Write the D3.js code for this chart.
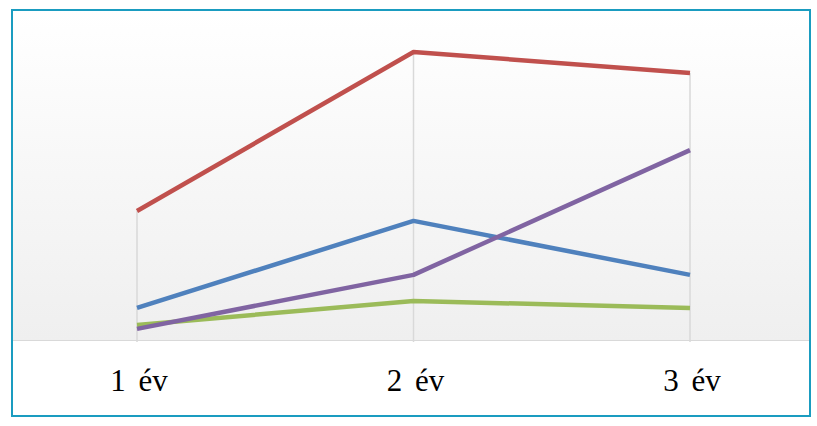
<!DOCTYPE html>
<html>
<head>
<meta charset="utf-8">
<script src="https://cdn.jsdelivr.net/npm/d3@7"></script>
<style>
  html, body { margin: 0; padding: 0; background: #fff; }
  svg { display: block; }
  .cat-label { font-family: "Liberation Serif", "Times New Roman", Times, "DejaVu Serif", serif; }
</style>
</head>
<body>
<div id="app"></div>
<script>
const categories = ["1 év", "2 év", "3 év"];
const redValues = [43, 96, 89];
const blueValues = [10.7, 39.7, 21.7];
const purpleValues = [3.7, 21.7, 63.3];
const greenValues = [5, 13, 10.7];

const series = [
  { name: "red", color: "#c0504d", values: redValues },
  { name: "blue", color: "#4f81bd", values: blueValues },
  { name: "green", color: "#9bbb59", values: greenValues },
  { name: "purple", color: "#8064a2", values: purpleValues }
];

const width = 817;
const height = 426;
const baseline = 340;

const svg = d3.select("#app")
  .append("svg")
  .attr("width", width)
  .attr("height", height);

const defs = svg.append("defs");
const grad = defs.append("linearGradient")
  .attr("id", "bg")
  .attr("x1", 0).attr("y1", 0).attr("x2", 0).attr("y2", 1);
grad.append("stop").attr("offset", "0%").attr("stop-color", "#ffffff");
grad.append("stop").attr("offset", "100%").attr("stop-color", "#efefef");

// plot background
svg.append("rect")
  .attr("x", 13)
  .attr("y", 11)
  .attr("width", 797)
  .attr("height", baseline - 11)
  .attr("fill", "url(#bg)");

const xScale = d3.scalePoint()
  .domain(categories)
  .range([137, 690]);

const yScale = d3.scaleLinear()
  .domain([0, 110])
  .range([baseline, 10]);

// drop lines from highest point to the baseline
svg.append("g")
  .selectAll("line")
  .data(categories)
  .enter()
  .append("line")
  .attr("x1", (d) => xScale(d))
  .attr("x2", (d) => xScale(d))
  .attr("y1", (d, i) => yScale(d3.max(series, (s) => s.values[i])))
  .attr("y2", baseline + 2)
  .attr("stroke", "#d9d9d9")
  .attr("stroke-width", 1.5);

// baseline
svg.append("line")
  .attr("x1", 13)
  .attr("x2", 810)
  .attr("y1", baseline + 0.5)
  .attr("y2", baseline + 0.5)
  .attr("stroke", "#d9d9d9")
  .attr("stroke-width", 1);

const line = d3.line()
  .x((d, i) => xScale(categories[i]))
  .y((d) => yScale(d));

svg.append("g")
  .selectAll("path")
  .data(series)
  .enter()
  .append("path")
  .attr("d", (d) => line(d.values))
  .attr("fill", "none")
  .attr("stroke", (d) => d.color)
  .attr("stroke-width", 4.5)
  .attr("stroke-linejoin", "round");

// category labels
svg.append("g")
  .selectAll("text")
  .data(categories)
  .enter()
  .append("text")
  .attr("class", "cat-label")
  .text((d) => d)
  .attr("x", (d) => xScale(d) + 2)
  .attr("y", 391)
  .attr("text-anchor", "middle")
  .attr("font-size", 31)
  .attr("word-spacing", 5)
  .attr("fill", "#000");

// outer border
svg.append("rect")
  .attr("x", 12)
  .attr("y", 10)
  .attr("width", 798)
  .attr("height", 406)
  .attr("fill", "none")
  .attr("stroke", "#1a9cc0")
  .attr("stroke-width", 2);
</script>
</body>
</html>
